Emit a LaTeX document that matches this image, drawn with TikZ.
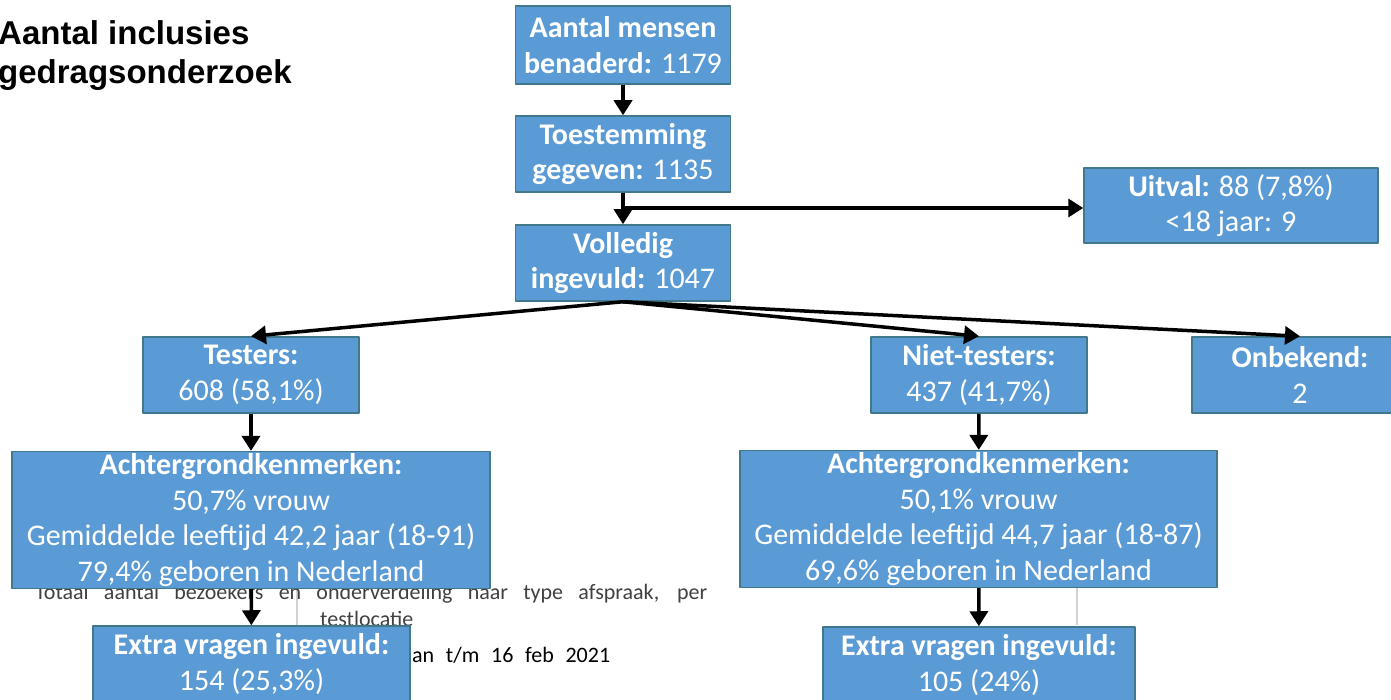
\documentclass[tikz,border=0pt]{standalone}
\usepackage{fontspec}
\setmainfont{Carlito}
\newfontfamily\titelfont{Liberation Sans}
\usetikzlibrary{arrows.meta}
\definecolor{blokblauw}{HTML}{5B9BD5}
\definecolor{blokrand}{HTML}{41788A}
\tikzset{blok/.style={draw=blokrand, line width=1.5pt, fill=blokblauw, text=white, align=center, inner sep=2pt, font=\fontsize{30}{35.5}\selectfont},
  pijl/.style={->, line width=3.5pt}}
\begin{document}
\begin{tikzpicture}[x=1pt, y=-1pt, line join = round, >={Triangle[length=15pt,width=18pt]}]
\useasboundingbox (0,0) rectangle (1391,700);
%Chữ nền
\draw[gray!35, line width=1.5pt] (297,560)--(297,700) (1077,560)--(1077,625);
\node[anchor=base west, inner sep=0, text=black!75, font=\fontsize{22}{26}\selectfont] (tot) at (35,599) {\makebox[672pt][s]{Totaal aantal bezoekers en onderverdeling naar type afspraak, per}};
\node[anchor=base west, inner sep=0, text=black!75, font=\fontsize{22}{26}\selectfont] (loc) at (320,626) {testlocatie};
\node[anchor=base west, inner sep=0, text=black, font=\fontsize{22}{26}\selectfont] (dat) at (412,662) {\makebox[198pt][s]{an t/m 16 feb 2021}};
%Tiêu đề
\node[anchor=north west, inner sep=0, align=left, font=\titelfont\bfseries\fontsize{33}{39}\selectfont] (titel) at (-2,20) {Aantal inclusies\\gedragsonderzoek};
%Các khối
\node[blok, minimum width=215pt, minimum height=78pt] (ben) at (623,45) {\textbf{Aantal mensen}\\\textbf{benaderd:} 1179};
\node[blok, minimum width=215pt, minimum height=76pt] (toe) at (623,154) {\textbf{Toestemming}\\\textbf{gegeven:} 1135};
\node[blok, minimum width=215pt, minimum height=76pt] (vol) at (623,263) {\textbf{Volledig}\\\textbf{ingevuld:} 1047};
\node[blok, minimum width=294pt, minimum height=75pt] (uit) at (1231,205.5) {\textbf{Uitval:} 88 (7,8\%)\\<18 jaar: 9};
\node[blok, minimum width=216pt, minimum height=76pt] (tes) at (251,375) {\textbf{Testers:}\\608 (58,1\%)};
\node[blok, minimum width=216pt, minimum height=76pt] (niet) at (979,375) {\textbf{Niet-testers:}\\437 (41,7\%)};
\node[blok, minimum width=216pt, minimum height=76pt] (onb) at (1300,375) {\textbf{Onbekend:}\\2};
\node[blok, minimum width=478pt, minimum height=136pt] (achl) at (251,520) {\textbf{Achtergrondkenmerken:}\\50,7\% vrouw\\Gemiddelde leeftijd 42,2 jaar (18-91)\\79,4\% geboren in Nederland};
\node[blok, minimum width=477pt, minimum height=136pt] (achr) at (978.5,519) {\textbf{Achtergrondkenmerken:}\\50,1\% vrouw\\Gemiddelde leeftijd 44,7 jaar (18-87)\\69,6\% geboren in Nederland};
\node[blok, minimum width=317pt, minimum height=76pt] (exl) at (251.5,664) {\textbf{Extra vragen ingevuld:}\\154 (25,3\%)};
\node[blok, minimum width=312pt, minimum height=76pt] (exr) at (979,665) {\textbf{Extra vragen ingevuld:}\\105 (24\%)};
%Các mũi tên
\coordinate (tak) at (623,208);
\draw[pijl] (ben)--(toe);
\draw[pijl] (toe)--(vol);
\draw[pijl] (tak)--(tak -| uit.west);
\draw[pijl] (vol.south)--(tes.north);
\draw[pijl] (vol.south)--(niet.north);
\draw[pijl] (vol.south)--(onb.north);
\draw[pijl] (tes)--(achl);
\draw[pijl] (achl)--(exl);
\draw[pijl] (niet)--(achr);
\draw[pijl] (achr)--(exr);
\end{tikzpicture}
\end{document}
